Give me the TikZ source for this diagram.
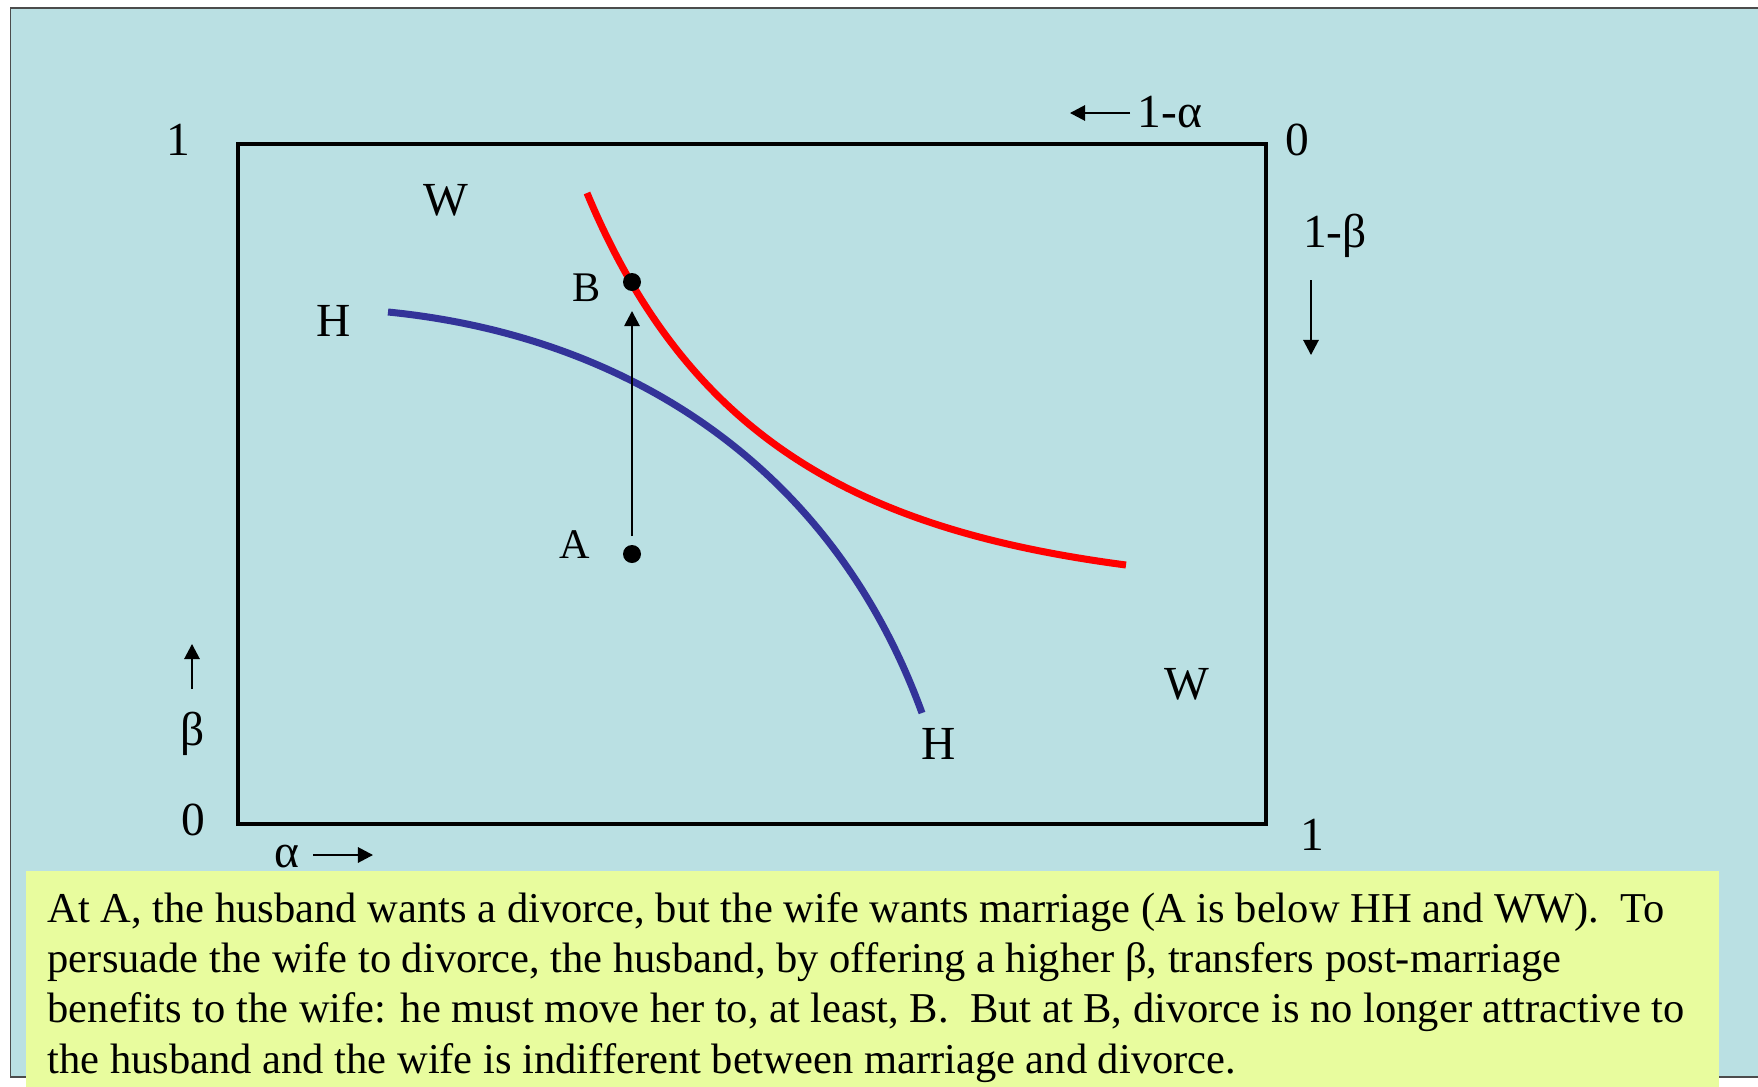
\documentclass[tikz,border=0pt]{standalone}
\usepackage{fontspec}
\setmainfont{Liberation Serif}
\usepackage{tikz}
\usetikzlibrary{arrows.meta}
\definecolor{slideteal}{HTML}{BAE0E3}
\definecolor{noteyellow}{HTML}{E8FC9E}
\definecolor{hcurve}{HTML}{333399}

\begin{document}
\begin{tikzpicture}[
  x=0.1mm, y=-0.1mm,
  lab/.style={font=\fontsize{13.5}{16}\selectfont,inner sep=0pt,anchor=base},
  ptlab/.style={font=\fontsize{12}{14}\selectfont,inner sep=0pt,anchor=base},
  dot/.style={circle,fill=black,inner sep=0pt,minimum size=1.8mm},
  arr/.style={-{Triangle[length=4.3pt,width=4.4pt]},line width=0.5pt},
  curve/.style={line width=2pt}
]
\useasboundingbox (0,0) rectangle (1758,1087);
\filldraw[fill=slideteal,draw=black!70,line width=0.4pt] (10.5,8) rectangle (1800,1077);
\draw[line width=1.3pt] (238,144) rectangle (1266,824);
% corner and axis labels
\node[lab] (tl) at (178,155) {1};
\node[lab] (tr) at (1297,155) {0};
\node[lab] (bl) at (193,835) {0};
\node[lab] (br) at (1312,850) {1};
\node[lab] (al) at (287,867) {α};
\node[lab] (beta) at (193,745) {β};
\node[lab] (oma) at (1170,127) {1-α};
\node[lab] (omb) at (1335,247) {1-β};
\coordinate (al0) at (313,855);  \coordinate (al1) at (373,855);
\coordinate (be0) at (192,689);  \coordinate (be1) at (192,644);
\coordinate (oma0) at (1130,113); \coordinate (oma1) at (1070,113);
\coordinate (omb0) at (1311,280); \coordinate (omb1) at (1311,355);
\draw[arr] (al0) -- (al1);
\draw[arr] (be0) -- (be1);
\draw[arr] (oma0) -- (oma1);
\draw[arr] (omb0) -- (omb1);
% indifference curves
\draw[curve,draw=red] (587,193) .. controls (690,440) and (860,530) .. (1126,565);
\draw[curve,draw=hcurve] (388,312) .. controls (620,335) and (830,460) .. (922,713);
\node[lab] (w1) at (446,215) {W};
\node[lab] (w2) at (1187,699) {W};
\node[lab] (h1) at (334,336) {H};
\node[lab] (h2) at (939,759) {H};
% points
\node[dot] (a) at (632,554) {};
\node[dot] (b) at (632,282) {};
\node[ptlab] (alab) at (575,558) {A};
\node[ptlab] (blab) at (587,301) {B};
\draw[arr,shorten <=2.3pt,shorten >=5.5pt] (a) -- (b);
% note
\fill[noteyellow] (26,871) rectangle (1719,1100);
\node[anchor=base west,align=left,inner sep=0pt,font=\fontsize{12.1}{14.3}\selectfont] (note) at (47,1073)
  {At A, the husband wants a divorce, but the wife wants marriage (A is below HH and WW).\ \ To\\
   persuade the wife to divorce, the husband, by offering a higher β, transfers post-marriage\\
   benefits to the wife: he must move her to, at least, B.\ \ But at B, divorce is no longer attractive to\\
   the husband and the wife is indifferent between marriage and divorce.};
\end{tikzpicture}
\end{document}
